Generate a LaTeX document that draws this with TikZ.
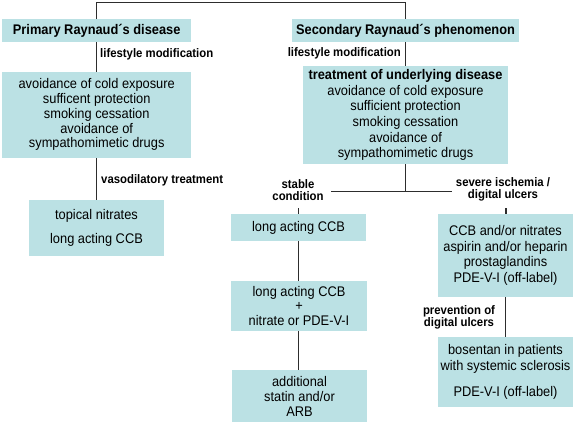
\documentclass[tikz,border=0pt]{standalone}
\usepackage{fontspec}
\setmainfont{Liberation Sans}[FakeStretch=0.92]
\definecolor{boxc}{RGB}{187,225,228}
\definecolor{linec}{RGB}{45,45,45}
\newcommand\bodyf{\fontsize{14}{15.5}\selectfont}
\newcommand\lblf{\fontsize{12.4}{12.5}\selectfont\bfseries}
\tikzset{
  box/.style={fill=boxc, inner sep=0pt, align=center, font=\bodyf},
  lbl/.style={font=\lblf, inner sep=0pt, align=center},
  conn/.style={draw=linec, line width=1.2bp}
}
\begin{document}
\begin{tikzpicture}[x=1bp,y=-1bp]
\useasboundingbox (0,0) rectangle (575,424);
% boxes
\node[box, minimum width=189bp, minimum height=23bp, font=\bodyf\bfseries] (prim) at (96.7,30.5) {Primary Raynaud´s disease};
\node[box, minimum width=227bp, minimum height=23bp, font=\bodyf\bfseries] (sec) at (405.5,30.5) {Secondary Raynaud´s phenomenon};
\node[box, minimum width=189bp, minimum height=86bp, font=\fontsize{14}{14.8}\selectfont] (lbox) at (96.7,114.8)
  {avoidance of cold exposure\\sufficent protection\\smoking cessation\\avoidance of\\sympathomimetic drugs};
\node[box, minimum width=134bp, minimum height=56bp, font=\fontsize{14}{24}\selectfont] (topical) at (96.5,228)
  {topical nitrates\\long acting CCB};
\node[box, minimum width=205bp, minimum height=98bp, font=\fontsize{14}{15.8}\selectfont] (sbox) at (405.5,115)
  {\textbf{treatment of underlying disease}\\avoidance of cold exposure\\sufficient protection\\smoking cessation\\avoidance of\\sympathomimetic drugs};
\node[box, minimum width=135bp, minimum height=27bp] (stable) at (298.5,227.5) {long acting CCB};
\node[box, minimum width=136bp, minimum height=50bp, font=\fontsize{14}{15}\selectfont] (combo) at (299,306)
  {long acting CCB\\+\\nitrate or PDE-V-I};
\node[box, minimum width=135bp, minimum height=52bp, font=\fontsize{14}{15}\selectfont] (addl) at (299.5,396)
  {additional\\statin and/or\\ARB};
\node[box, minimum width=135bp, minimum height=83bp] (severe) at (505.5,255.5)
  {CCB and/or nitrates\\aspirin and/or heparin\\prostaglandins\\PDE-V-I (off-label)};
\node[box, minimum width=135bp, minimum height=70bp] (bosentan) at (505.5,372)
  {bosentan in patients\\with systemic sclerosis\\[11bp]PDE-V-I (off-label)};
% labels
\node[lbl, anchor=west] (lm1) at (100,54) {lifestyle modification};
\node[lbl, anchor=east] (lm2) at (401,53.5) {lifestyle modification};
\node[lbl, anchor=west] (vaso) at (101,180.5) {vasodilatory treatment};
\node[lbl] (stl) at (298,190) {stable\\condition};
\node[lbl] (svl) at (503,189.5) {severe ischemia /\\digital ulcers};
\node[lbl] (prev) at (459,317.5) {prevention of\\digital ulcers};
% connectors
\coordinate (top) at (250,2.5);
\coordinate (jl) at (331,191.7);
\coordinate (jr) at (452,191.7);
\draw[conn] (prim.north) |- (top) -| (sec.north);
\draw[conn] (prim.south) -- (lbox.north);
\draw[conn] (lbox.south) -- (lbox.south |- topical.north);
\draw[conn] (sec.south) -- (sbox.north);
\draw[conn] (sbox.south) -- (sbox.south |- jl);
\draw[conn] (jl) -- (jr);
\draw[conn] (stable.north) -- ([yshift=5.5bp]stable.north);
\draw[conn] ([xshift=0.5bp]severe.north) -- ([xshift=0.5bp,yshift=6bp]severe.north);
\draw[conn] (stable.south) -- (stable.south |- combo.north);
\draw[conn] ([xshift=-0.5bp]combo.south) -- ([xshift=-0.5bp]combo.south |- addl.north);
\draw[conn] (severe.south) -- (bosentan.north);
\end{tikzpicture}
\end{document}
